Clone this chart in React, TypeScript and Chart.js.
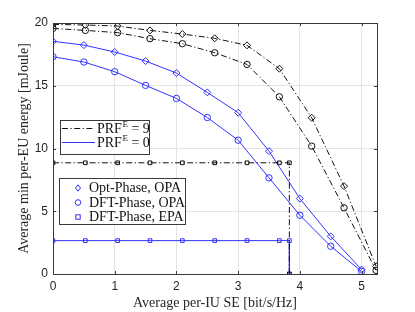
import React, { useEffect, useRef } from 'react';
import { Chart, registerables } from 'chart.js';

Chart.register(...registerables);

// x values (average per-IU SE, bit/s/Hz)
const seHalfStep = [0, 0.5, 1, 1.5, 2, 2.5, 3, 3.5, 4, 4.5, 5];
const seBlackStep = [0, 0.524, 1.048, 1.572, 2.096, 2.62, 3.144, 3.668, 4.192, 4.716, 5.235];
const seEpa = [0, 0.524, 1.048, 1.572, 2.096, 2.62, 3.144, 3.668, 3.83, 3.83];

// PRF^E = 9 (black, dash-dot)
const prf9OptOpa = [19.89, 19.84, 19.76, 19.41, 19.12, 18.78, 18.22, 16.36, 12.45, 7.0, 0.61];
const prf9DftOpa = [19.57, 19.41, 19.23, 18.75, 18.35, 17.63, 16.7, 14.12, 10.19, 5.27, 0.29];
const prf9DftEpa = [8.86, 8.86, 8.86, 8.86, 8.86, 8.86, 8.86, 8.86, 8.86, 0];

// PRF^E = 0 (blue, solid)
const prf0OptOpa = [18.54, 18.24, 17.69, 16.97, 16.01, 14.47, 12.85, 9.79, 6.01, 3.0, 0.35];
const prf0DftOpa = [17.31, 16.89, 16.12, 15.03, 13.99, 12.47, 10.66, 7.66, 4.68, 2.21, 0.21];
const prf0DftEpa = [2.66, 2.66, 2.66, 2.66, 2.66, 2.66, 2.66, 2.66, 2.66, 0];

const xTicks = [0, 1, 2, 3, 4, 5];
const yTicks = [0, 5, 10, 15, 20];

const BLUE = 'rgb(50,50,255)';
const BLACK = '#111';
const DASHDOT = [6, 2.5, 1.2, 2.5];
const SERIF = '"Liberation Serif", "DejaVu Serif", serif';
const SANS = '"Liberation Sans", Arial, sans-serif';

const pts = (xs: number[], ys: number[]) => xs.map((x, i) => ({ x, y: ys[i] }));

const frame = {
  id: 'frame',
  afterDatasetsDraw(chart: any) {
    const { ctx, chartArea: a } = chart;
    ctx.save();
    ctx.strokeStyle = '#3a3a3a';
    ctx.lineWidth = 1;
    ctx.strokeRect(Math.round(a.left) + 0.5, Math.round(a.top) + 0.5, Math.round(a.right - a.left), Math.round(a.bottom - a.top));
    const xs = chart.scales.x;
    const ys = chart.scales.y;
    ctx.beginPath();
    xTicks.forEach((t) => {
      const px = Math.round(xs.getPixelForValue(t)) + 0.5;
      ctx.moveTo(px, a.bottom); ctx.lineTo(px, a.bottom - 3);
      ctx.moveTo(px, a.top); ctx.lineTo(px, a.top + 3);
    });
    yTicks.forEach((t) => {
      const py = Math.round(ys.getPixelForValue(t)) + 0.5;
      ctx.moveTo(a.left, py); ctx.lineTo(a.left + 3, py);
      ctx.moveTo(a.right, py); ctx.lineTo(a.right - 3, py);
    });
    ctx.stroke();

    const drawBox = (x: number, y: number, w: number, h: number) => {
      ctx.fillStyle = '#fff';
      ctx.fillRect(x, y, w, h);
      ctx.strokeStyle = '#3a3a3a';
      ctx.lineWidth = 1;
      ctx.strokeRect(x + 0.5, y + 0.5, w, h);
    };
    const prfText = (x: number, y: number, val: string) => {
      ctx.fillStyle = '#111';
      ctx.textBaseline = 'middle';
      ctx.textAlign = 'left';
      ctx.font = `14px ${SERIF}`;
      ctx.fillText('PRF', x, y);
      let w = ctx.measureText('PRF').width;
      ctx.font = `9px ${SERIF}`;
      ctx.fillText('E', x + w + 0.5, y - 4.5);
      w += ctx.measureText('E').width + 0.5;
      ctx.font = `14px ${SERIF}`;
      ctx.fillText(' = ' + val, x + w, y);
    };
    // Legend 1: line styles
    drawBox(60, 120, 89, 34);
    ctx.lineWidth = 1;
    ctx.strokeStyle = BLACK;
    ctx.setLineDash(DASHDOT);
    ctx.beginPath(); ctx.moveTo(62, 128.5); ctx.lineTo(95, 128.5); ctx.stroke();
    ctx.setLineDash([]);
    ctx.strokeStyle = BLUE;
    ctx.beginPath(); ctx.moveTo(62, 142.5); ctx.lineTo(95, 142.5); ctx.stroke();
    prfText(97, 129, '9');
    prfText(97, 143.5, '0');

    // Legend 2: markers
    drawBox(59, 178, 126, 46);
    ctx.strokeStyle = BLUE;
    ctx.lineWidth = 1;
    const mx = 78;
    ctx.beginPath();
    ctx.moveTo(mx, 188 - 3.2); ctx.lineTo(mx + 2.5, 188); ctx.lineTo(mx, 188 + 3.2); ctx.lineTo(mx - 2.5, 188); ctx.closePath();
    ctx.stroke();
    ctx.beginPath(); ctx.arc(mx, 202.5, 2.8, 0, Math.PI * 2); ctx.stroke();
    ctx.strokeRect(mx - 2.2, 217 - 2.2, 4.4, 4.4);
    ctx.fillStyle = '#111';
    ctx.font = `14px ${SERIF}`;
    ctx.textBaseline = 'middle';
    ctx.textAlign = 'left';
    ctx.fillText('Opt-Phase, OPA', 89, 188.5);
    ctx.fillText('DFT-Phase, OPA', 89, 203);
    ctx.fillText('DFT-Phase, EPA', 89, 217.5);
    ctx.restore();
  },
};

export default function App() {
  const ref = useRef<HTMLCanvasElement>(null);
  useEffect(() => {
    if (!ref.current) return;
    const line = (label: string, data: any[], color: string, dashed: boolean, style: string, r: number) => ({
      label,
      data,
      showLine: true,
      borderColor: color,
      backgroundColor: 'transparent',
      borderWidth: 1,
      borderDash: dashed ? DASHDOT : [],
      pointStyle: style,
      pointRadius: r,
      pointBorderWidth: 1,
      pointBorderColor: color,
      pointBackgroundColor: 'transparent',
      tension: 0,
      fill: false,
    });
    const chart = new Chart(ref.current, {
      type: 'scatter',
      data: {
        datasets: [
          line('PRF9 Opt OPA', pts(seBlackStep, prf9OptOpa), BLACK, true, 'rectRot', 3.5),
          line('PRF9 DFT OPA', pts(seBlackStep, prf9DftOpa), BLACK, true, 'circle', 3.2),
          line('PRF9 DFT EPA', pts(seEpa, prf9DftEpa), BLACK, true, 'rect', 2.6),
          line('PRF0 Opt OPA', pts(seHalfStep, prf0OptOpa), BLUE, false, 'rectRot', 3.5),
          line('PRF0 DFT OPA', pts(seHalfStep, prf0DftOpa), BLUE, false, 'circle', 3.2),
          line('PRF0 DFT EPA', pts(seEpa, prf0DftEpa), BLUE, false, 'rect', 2.6),
        ],
      },
      options: {
        animation: false,
        responsive: false,
        layout: { padding: { top: 23, right: 38, left: 0, bottom: 0 } },
        plugins: { legend: { display: false }, tooltip: { enabled: false } },
        scales: {
          x: {
            type: 'linear',
            min: 0,
            max: 5.25,
            afterFit: (s: any) => { s.height = 38; },
            border: { display: false },
            grid: { color: '#e4e4e4', drawTicks: false, lineWidth: 1 },
            ticks: {
              stepSize: 1,
              includeBounds: false,
              padding: 5,
              color: '#262626',
              font: { family: SANS, size: 12 },
              maxRotation: 0,
            },
            title: {
              display: true,
              text: 'Average per-IU SE [bit/s/Hz]',
              color: '#262626',
              font: { family: SERIF, size: 14 },
              padding: { top: 0, bottom: 0 },
            },
          },
          y: {
            min: 0,
            max: 20,
            afterFit: (s: any) => { s.width = 53; },
            border: { display: false },
            grid: { color: '#e4e4e4', drawTicks: false, lineWidth: 1 },
            ticks: {
              stepSize: 5,
              padding: 5,
              color: '#262626',
              font: { family: SANS, size: 12 },
            },
            title: {
              display: true,
              text: 'Average min per-EU energy [mJoule]',
              color: '#262626',
              font: { family: SERIF, size: 14 },
              padding: { top: 15.5, bottom: 0 },
            },
          },
        },
      },
      plugins: [frame],
    } as any);
    return () => chart.destroy();
  }, []);
  return (
    <div style={{ position: 'fixed', left: 0, top: 0, width: 415, height: 312, background: '#fff' }}>
      <canvas ref={ref} width={415} height={312} />
    </div>
  );
}
